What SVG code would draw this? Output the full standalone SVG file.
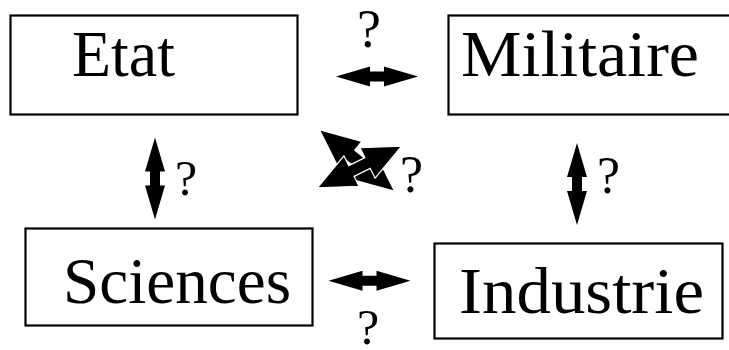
<svg xmlns="http://www.w3.org/2000/svg" xmlns:xlink="http://www.w3.org/1999/xlink" width="729" height="350" viewBox="0 0 729 350">
<style>
.box{fill:#fff;stroke:#000;stroke-width:2.2}
.lbl{font-family:"Liberation Serif","Times New Roman",serif;font-size:66px;fill:#000}
.q{font-family:"Liberation Serif","Times New Roman",serif;fill:#000}
.arr{fill:#000}
.arrw{fill:#000;stroke:#fff;stroke-width:1.2}
</style>
<defs>
<path id="dbl" d="M-41,0 L-7,-10 L-7,-5 L7,-5 L7,-10 L41,0 L7,10 L7,5 L-7,5 L-7,10 Z"/>
<path id="dbd" d="M-47,0 L-9,-17 L-9,-6 L9,-6 L9,-17 L47,0 L9,17 L9,6 L-9,6 L-9,17 Z"/>
</defs>
<rect width="729" height="350" fill="#fff"/>
<g id="etat">
<rect class="box" x="10.5" y="15.5" width="287" height="99"/>
<text class="lbl" x="72" y="76" textLength="103" lengthAdjust="spacingAndGlyphs">Etat</text>
</g>
<g id="militaire">
<rect class="box" x="448.5" y="15.5" width="288" height="99"/>
<text class="lbl" x="461" y="76" textLength="238" lengthAdjust="spacingAndGlyphs">Militaire</text>
</g>
<g id="sciences">
<rect class="box" x="25.5" y="228.5" width="287" height="97"/>
<text class="lbl" x="63" y="303" textLength="228" lengthAdjust="spacingAndGlyphs">Sciences</text>
</g>
<g id="industrie">
<rect class="box" x="434.5" y="243.5" width="288" height="95"/>
<text class="lbl" x="459" y="313" textLength="245" lengthAdjust="spacingAndGlyphs">Industrie</text>
</g>
<g id="connectors">
<use xlink:href="#dbl" class="arr" transform="translate(377,76.5)"/>
<use xlink:href="#dbl" class="arr" transform="translate(369.5,280.7)"/>
<use xlink:href="#dbl" class="arr" transform="translate(155,178.5) rotate(90)"/>
<use xlink:href="#dbl" class="arr" transform="translate(577,184) rotate(90)"/>
<use xlink:href="#dbd" class="arr" transform="translate(357,160.5) rotate(39.3)"/>
<use xlink:href="#dbd" class="arrw" transform="translate(359.5,167) rotate(-26.3)"/>
<text class="q" x="357" y="47" font-size="54">?</text>
<text class="q" x="357" y="344" font-size="50">?</text>
<text class="q" x="175" y="195" font-size="50">?</text>
<text class="q" x="597" y="193" font-size="52">?</text>
<text class="q" x="400" y="192" font-size="52">?</text>
</g>
</svg>
